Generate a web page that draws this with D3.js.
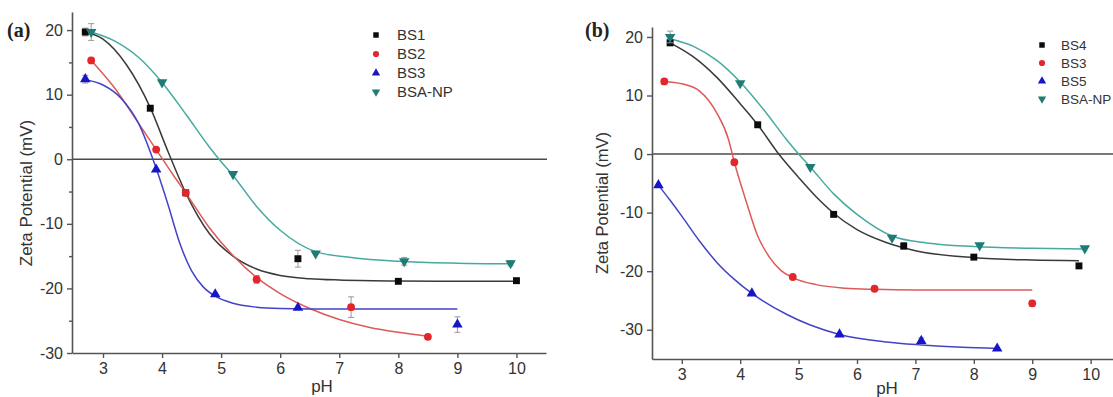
<!DOCTYPE html>
<html>
<head>
<meta charset="utf-8">
<script src="https://cdn.jsdelivr.net/npm/d3@7"></script>
<style>
  body { margin: 0; background: #fff; }
  svg { display: block; font-family: "Liberation Sans", Arial, sans-serif; }
</style>
</head>
<body>
<svg id="chart" width="1113" height="397"></svg>
<script>
// ---- panel (a) measured points ----
const phA_BS1 = [2.7, 3.8, 4.4, 6.3, 8.0, 10.0];
const zA_BS1 = [19.7, 7.9, -5.2, -15.4, -18.9, -18.8];
const errA_BS1 = [0.6, 0, 0, 1.3, 0, 0];
const phA_BS2 = [2.8, 3.9, 4.4, 5.6, 7.2, 8.5];
const zA_BS2 = [15.3, 1.5, -5.2, -18.6, -22.9, -27.5];
const errA_BS2 = [0, 0, 0, 0.6, 1.6, 0];
const phA_BS3 = [2.7, 3.9, 4.9, 6.3, 9.0];
const zA_BS3 = [12.4, -1.6, -20.9, -23.0, -25.6];
const errA_BS3 = [0.6, 0, 0, 0, 1.2];
const phA_NP = [2.8, 4.0, 5.2, 6.6, 8.1, 9.9];
const zA_NP = [19.7, 11.9, -2.3, -14.6, -15.8, -16.1];
const errA_NP = [1.3, 0, 0, 0, 0.6, 0.4];

// ---- panel (a) fitted curves ----
const fitA_BS1_x = [2.7, 3.0, 3.4, 3.8, 4.1, 4.4, 4.8, 5.2, 5.6, 6.0, 6.5, 7.0, 8.0, 9.0, 10.0];
const fitA_BS1_y = [19.7, 18.6, 14.6, 8.0, 1.2, -5.2, -11.5, -15.0, -17.0, -18.0, -18.5, -18.7, -18.85, -18.9, -18.9];
const fitA_BS2_x = [2.8, 3.2, 3.6, 3.9, 4.2, 4.4, 4.8, 5.2, 5.6, 6.0, 6.5, 7.0, 7.5, 8.0, 8.5];
const fitA_BS2_y = [15.3, 11.0, 5.6, 1.5, -2.6, -5.2, -10.6, -14.9, -18.3, -20.8, -23.1, -24.8, -26.0, -26.8, -27.4];
const fitA_BS3_x = [2.7, 3.0, 3.3, 3.6, 3.9, 4.1, 4.3, 4.5, 4.7, 4.9, 5.2, 5.6, 6.0, 7.0, 9.0];
const fitA_BS3_y = [12.3, 11.5, 9.5, 5.6, -1.4, -7.0, -13.0, -17.3, -19.8, -21.2, -22.3, -22.9, -23.1, -23.2, -23.2];
const fitA_NP_x = [2.8, 3.2, 3.6, 4.0, 4.4, 4.8, 5.0, 5.2, 5.6, 6.0, 6.6, 7.2, 8.0, 9.0, 9.9];
const fitA_NP_y = [19.7, 18.3, 15.8, 11.9, 7.0, 1.9, -0.4, -2.5, -7.3, -11.0, -14.3, -15.2, -15.8, -16.1, -16.2];

// ---- panel (b) measured points ----
const phB_BS4 = [2.8, 4.3, 5.6, 6.8, 8.0, 9.8];
const zB_BS4 = [19.0, 5.0, -10.3, -15.7, -17.6, -19.1];
const errB_BS4 = [0.5, 0, 0, 0.6, 0, 0];
const phB_BS3 = [2.7, 3.9, 4.9, 6.3, 9.0];
const zB_BS3 = [12.4, -1.4, -21.0, -23.0, -25.5];
const errB_BS3 = [0.4, 0, 0, 0, 0.5];
const phB_BS5 = [2.6, 4.2, 5.7, 7.1, 8.4];
const zB_BS5 = [-5.3, -23.8, -30.8, -31.9, -33.2];
const errB_BS5 = [0, 0, 0, 0.5, 0];
const phB_NP = [2.8, 4.0, 5.2, 6.6, 8.1, 9.9];
const zB_NP = [20.0, 12.1, -2.2, -14.3, -15.6, -16.1];
const errB_NP = [1.0, 0, 0, 0, 0, 0];

// ---- panel (b) fitted curves ----
const fitB_BS4_x = [2.8, 3.2, 3.6, 4.0, 4.3, 4.66, 5.0, 5.3, 5.6, 6.0, 6.5, 7.0, 8.0, 9.0, 9.8];
const fitB_BS4_y = [19.0, 16.6, 13.1, 8.6, 5.0, 0, -4.0, -7.3, -10.1, -12.9, -15.1, -16.5, -17.7, -18.1, -18.2];
const fitB_BS3_x = [2.7, 3.0, 3.3, 3.6, 3.8, 3.9, 4.1, 4.3, 4.5, 4.7, 4.9, 5.3, 5.8, 6.3, 7.0, 9.0];
const fitB_BS3_y = [12.4, 12.0, 10.8, 7.0, 2.5, -1.4, -8.0, -14.0, -17.6, -19.9, -21.1, -22.3, -22.9, -23.1, -23.2, -23.2];
const fitB_BS5_x = [2.6, 2.8, 3.0, 3.3, 3.6, 3.9, 4.2, 4.8, 5.2, 5.7, 6.5, 7.1, 7.8, 8.4];
const fitB_BS5_y = [-5.3, -7.9, -10.6, -14.8, -18.5, -21.4, -23.8, -27.4, -29.2, -30.8, -32.1, -32.6, -33.0, -33.2];
const fitB_NP_x = [2.8, 3.2, 3.6, 4.0, 4.4, 4.8, 5.0, 5.2, 5.6, 6.0, 6.6, 7.2, 8.0, 9.0, 9.9];
const fitB_NP_y = [19.7, 18.4, 16.0, 12.3, 7.6, 2.4, 0, -2.2, -6.8, -10.3, -14.0, -15.2, -15.8, -16.1, -16.2];

// ---- tick labels ----
const xTicks = [3, 4, 5, 6, 7, 8, 9, 10];
const yTicksA = [20, 10, 0, -10, -20, -30];
const yMinorA = [15, 5, -5, -15, -25];
const yTicksB = [20, 10, 0, -10, -20, -30];

const styles = {
  black: {marker: '#0b0b0b', line: '#3a3a3a', shape: d3.symbolSquare},
  red: {marker: '#e3262b', line: '#dd5a57', shape: d3.symbolCircle},
  blue: {marker: '#1616c6', line: '#4343c8', shape: d3.symbolTriangle},
  teal: {marker: '#1f7c75', line: '#46aaa0', shape: 'down'}
};

const svg = d3.select('#chart');

function zip(xs, ys, es) {
  return xs.map((x, i) => ({x: x, y: ys[i], e: es ? es[i] : 0}));
}

function symbolPath(shape, size) {
  if (shape === 'down') return d3.symbol(d3.symbolTriangle, size)();
  return d3.symbol(shape, size)();
}

function drawPanel(p) {
  const g = svg.append('g');
  const x = d3.scaleLinear().domain(p.xDomain).range(p.xRange);
  const y = d3.scaleLinear().domain(p.yDomain).range(p.yRange);

  // zero line
  g.append('line')
    .attr('x1', p.xRange[0]).attr('x2', p.zeroEnd)
    .attr('y1', y(0)).attr('y2', y(0))
    .attr('stroke', '#4a4a4a').attr('stroke-width', 1.6);

  const line = d3.line()
    .x(d => x(d.x))
    .y(d => y(d.y))
    .curve(d3.curveMonotoneX);

  p.series.forEach(s => {
    const st = styles[s.color];
    g.append('path')
      .attr('d', line(zip(s.fitX, s.fitY)))
      .attr('fill', 'none')
      .attr('stroke', st.line)
      .attr('stroke-width', 1.5);
  });

  p.series.forEach(s => {
    const st = styles[s.color];
    const pts = zip(s.px, s.py, s.err);
    // error bars
    pts.filter(d => d.e > 0).forEach(d => {
      const cx = x(d.x);
      const eg = g.append('g').attr('stroke', '#9a9a9a').attr('stroke-width', 1);
      eg.append('line').attr('x1', cx).attr('x2', cx).attr('y1', y(d.y + d.e)).attr('y2', y(d.y - d.e));
      eg.append('line').attr('x1', cx - 3).attr('x2', cx + 3).attr('y1', y(d.y + d.e)).attr('y2', y(d.y + d.e));
      eg.append('line').attr('x1', cx - 3).attr('x2', cx + 3).attr('y1', y(d.y - d.e)).attr('y2', y(d.y - d.e));
    });
    g.selectAll(null)
      .data(pts)
      .enter()
      .append('path')
      .attr('d', symbolPath(st.shape, 48))
      .attr('transform', d => `translate(${x(d.x)},${y(d.y)})` + (st.shape === 'down' ? ' rotate(180)' : ''))
      .attr('fill', st.marker);
  });

  // axes
  const yAxis = g.append('g')
    .attr('transform', `translate(${p.xRange[0]},0)`)
    .call(d3.axisLeft(y).tickValues(p.yTicks).tickFormat(d => String(d)).tickSize(5).tickSizeOuter(0).tickPadding(4));
  if (p.yMinor) {
    g.append('g')
      .attr('transform', `translate(${p.xRange[0]},0)`)
      .call(d3.axisLeft(y).tickValues(p.yMinor).tickFormat('').tickSize(3).tickSizeOuter(0))
      .select('.domain').remove();
  }
  const xAxis = g.append('g')
    .attr('transform', `translate(0,${p.yRange[0]})`)
    .call(d3.axisBottom(x).tickValues(xTicks).tickFormat(d => String(d)).tickSize(5).tickSizeOuter(0).tickPadding(5));

  [yAxis, xAxis].forEach(a => {
    a.selectAll('.domain, line').attr('stroke', '#555').attr('stroke-width', 1.6);
    a.selectAll('text').attr('fill', '#333').style('font-size', '16px').attr('font-family', null);
  });
  g.selectAll('.tick line').attr('stroke', '#555').attr('stroke-width', 1.4);

  // labels
  g.append('text')
    .attr('transform', `translate(${p.yLabelX},${p.yLabelY}) rotate(-90)`)
    .attr('text-anchor', 'middle')
    .attr('fill', '#333')
    .style('font-size', p.yLabelSize + 'px')
    .text('Zeta Potential (mV)');
  g.append('text')
    .attr('x', p.xLabelX).attr('y', p.xLabelY)
    .attr('text-anchor', 'middle')
    .attr('fill', '#333')
    .style('font-size', '17px')
    .text('pH');
  g.append('text')
    .attr('x', p.tagX).attr('y', p.tagY)
    .attr('fill', '#222')
    .style('font-family', '"Liberation Serif", "Times New Roman", serif')
    .style('font-weight', 'bold')
    .style('font-size', '20px')
    .text(p.tag);

  // legend
  const lg = g.append('g');
  p.series.forEach((s, i) => {
    const st = styles[s.color];
    const cy = p.legY + i * p.legStep;
    lg.append('path')
      .attr('d', symbolPath(st.shape, 30))
      .attr('transform', `translate(${p.legX},${cy})` + (st.shape === 'down' ? ' rotate(180)' : ''))
      .attr('fill', st.marker);
    lg.append('text')
      .attr('x', p.legX + p.legGap).attr('y', cy)
      .attr('dy', '0.35em')
      .attr('fill', '#333')
      .style('font-size', p.legSize + 'px')
      .text(s.name);
  });
}

drawPanel({
  tag: '(a)', tagX: 7, tagY: 37,
  xDomain: [2.475, 10.5], xRange: [72, 546],
  yDomain: [-30, 22.8], yRange: [353, 12],
  zeroEnd: 547,
  yTicks: yTicksA, yMinor: yMinorA,
  yLabelX: 32, yLabelY: 193, yLabelSize: 17,
  xLabelX: 322, xLabelY: 392,
  legX: 376, legY: 35, legStep: 19, legSize: 15, legGap: 21,
  series: [
    {name: 'BS1', color: 'black', px: phA_BS1, py: zA_BS1, err: errA_BS1, fitX: fitA_BS1_x, fitY: fitA_BS1_y},
    {name: 'BS2', color: 'red', px: phA_BS2, py: zA_BS2, err: errA_BS2, fitX: fitA_BS2_x, fitY: fitA_BS2_y},
    {name: 'BS3', color: 'blue', px: phA_BS3, py: zA_BS3, err: errA_BS3, fitX: fitA_BS3_x, fitY: fitA_BS3_y},
    {name: 'BSA-NP', color: 'teal', px: phA_NP, py: zA_NP, err: errA_NP, fitX: fitA_NP_x, fitY: fitA_NP_y}
  ]
});

drawPanel({
  tag: '(b)', tagX: 585, tagY: 37,
  xDomain: [2.49, 10.4], xRange: [652, 1114],
  yDomain: [-35, 21.7], yRange: [359, 27],
  zeroEnd: 1113,
  yTicks: yTicksB, yMinor: null,
  yLabelX: 608, yLabelY: 203, yLabelSize: 16.5,
  xLabelX: 887, xLabelY: 394,
  legX: 1042, legY: 45, legStep: 18, legSize: 13.5, legGap: 19,
  series: [
    {name: 'BS4', color: 'black', px: phB_BS4, py: zB_BS4, err: errB_BS4, fitX: fitB_BS4_x, fitY: fitB_BS4_y},
    {name: 'BS3', color: 'red', px: phB_BS3, py: zB_BS3, err: errB_BS3, fitX: fitB_BS3_x, fitY: fitB_BS3_y},
    {name: 'BS5', color: 'blue', px: phB_BS5, py: zB_BS5, err: errB_BS5, fitX: fitB_BS5_x, fitY: fitB_BS5_y},
    {name: 'BSA-NP', color: 'teal', px: phB_NP, py: zB_NP, err: errB_NP, fitX: fitB_NP_x, fitY: fitB_NP_y}
  ]
});
</script>
</body>
</html>
